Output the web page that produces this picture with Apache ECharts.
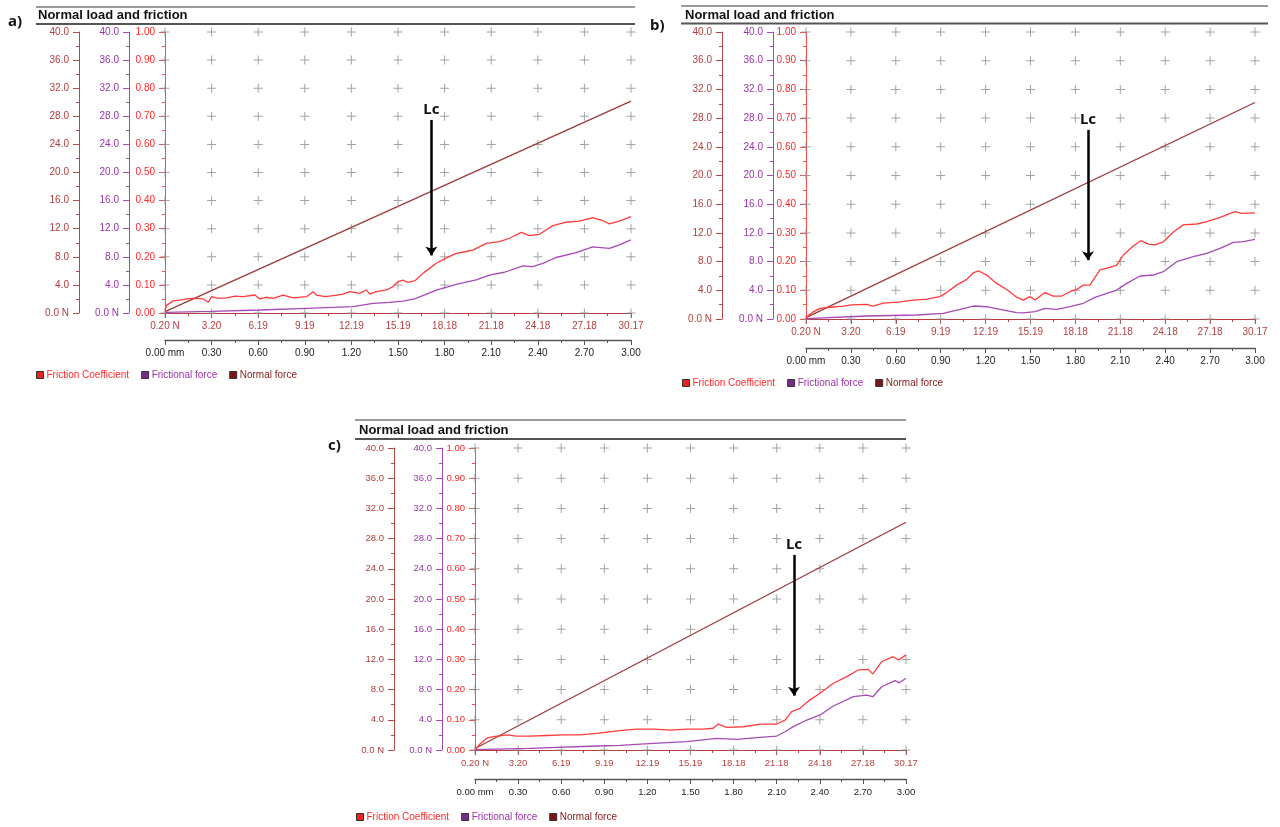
<!DOCTYPE html>
<html>
<head>
<meta charset="utf-8">
<script src="https://cdn.jsdelivr.net/npm/echarts@6/dist/echarts.min.js"></script>
<style>
  html, body { margin: 0; background: #fff; }
  #main { width: 1280px; height: 827px; }
</style>
</head>
<body>
<div id="main"></div>
<script>
// tick labels
const loadLabels = ['0.20 N', '3.20', '6.19', '9.19', '12.19', '15.19', '18.18', '21.18', '24.18', '27.18', '30.17'];
const distLabels = ['0.00 mm', '0.30', '0.60', '0.90', '1.20', '1.50', '1.80', '2.10', '2.40', '2.70', '3.00'];
const distTicks = [0, 0.3, 0.6, 0.9, 1.2, 1.5, 1.8, 2.1, 2.4, 2.7, 3.0];
const coefTicks = [0, 0.1, 0.2, 0.3, 0.4, 0.5, 0.6, 0.7, 0.8, 0.9, 1.0];

// normal force follows the applied load  [load N, force N]
const normalForce = [[0.2, 0.2], [30.17, 30.17]];

// a) [load N, value]
const coefA = [[0.2, 0.011], [0.31, 0.028], [0.73, 0.043], [1.16, 0.046], [1.59, 0.05], [2.02, 0.052], [2.66, 0.05], [2.98, 0.038],
  [3.2, 0.058], [3.6, 0.052], [4.16, 0.054], [4.7, 0.06], [5.23, 0.058], [5.98, 0.064], [6.3, 0.05], [6.7, 0.056], [7.16, 0.052],
  [7.8, 0.064], [8.44, 0.054], [9.3, 0.058], [9.72, 0.076], [9.94, 0.064], [10.5, 0.058], [11.01, 0.062], [11.6, 0.066],
  [12.08, 0.076], [12.72, 0.07], [13.15, 0.082], [13.37, 0.067], [13.8, 0.076], [14.44, 0.082], [14.86, 0.094], [15.18, 0.111],
  [15.5, 0.117], [15.83, 0.109], [16.26, 0.114], [16.79, 0.141], [17.65, 0.177], [18.3, 0.196], [18.93, 0.212], [19.5, 0.218],
  [20.0, 0.224], [20.86, 0.248], [21.71, 0.254], [22.36, 0.266], [23.11, 0.287], [23.64, 0.275], [24.28, 0.28], [25.14, 0.311],
  [26.0, 0.323], [26.85, 0.327], [27.71, 0.339], [28.3, 0.33], [28.78, 0.317], [29.42, 0.327], [30.17, 0.343]];
const forceA = [[0.2, 0.1], [3.2, 0.22], [6.3, 0.43], [9.3, 0.67], [12.29, 0.9], [13.58, 1.37], [14.65, 1.5], [15.5, 1.7],
  [16.26, 2.0], [17.65, 3.27], [18.93, 4.08], [20.22, 4.7], [21.07, 5.4], [22.03, 5.8], [23.21, 6.7], [23.85, 6.6], [24.5, 7.07],
  [25.35, 7.9], [26.64, 8.6], [27.71, 9.4], [28.78, 9.2], [29.42, 9.7], [30.17, 10.4]];

// b)
const coefB = [[0.2, 0.0], [0.25, 0.008], [0.69, 0.025], [1.13, 0.037], [1.8, 0.041], [2.69, 0.045], [3.25, 0.049], [4.25, 0.051],
  [4.69, 0.045], [5.36, 0.055], [6.47, 0.06], [7.36, 0.066], [8.26, 0.069], [9.14, 0.078], [9.59, 0.092], [10.26, 0.118],
  [10.93, 0.138], [11.37, 0.161], [11.7, 0.168], [12.26, 0.153], [12.93, 0.124], [13.6, 0.103], [14.26, 0.076], [14.7, 0.066],
  [15.15, 0.078], [15.49, 0.066], [16.15, 0.092], [16.71, 0.08], [17.27, 0.08], [17.82, 0.095], [18.27, 0.103], [18.71, 0.118],
  [19.16, 0.118], [19.38, 0.136], [19.82, 0.171], [20.49, 0.18], [20.94, 0.188], [21.38, 0.223], [22.05, 0.254], [22.54, 0.273],
  [23.05, 0.261], [23.5, 0.258], [24.05, 0.269], [24.72, 0.303], [25.39, 0.328], [26.28, 0.331], [26.95, 0.339], [27.84, 0.354],
  [28.84, 0.374], [29.28, 0.368], [30.17, 0.37]];
const forceB = [[0.2, 0.05], [4.25, 0.42], [7.59, 0.56], [9.36, 0.79], [10.48, 1.35], [11.37, 1.81], [12.26, 1.71], [13.15, 1.35],
  [14.26, 0.88], [14.7, 0.85], [15.49, 1.02], [16.15, 1.49], [16.93, 1.35], [17.82, 1.71], [18.71, 2.19], [19.49, 3.02],
  [20.27, 3.58], [20.94, 4.04], [21.61, 4.97], [22.49, 5.99], [23.38, 6.13], [24.05, 6.59], [24.94, 7.99], [26.05, 8.68],
  [26.95, 9.16], [27.84, 9.85], [28.72, 10.69], [29.39, 10.77], [30.17, 11.1]];

// c)
const coefC = [[0.2, 0.0], [0.55, 0.02], [1.01, 0.039], [1.47, 0.044], [2.4, 0.05], [3.1, 0.046], [4.02, 0.046], [5.2, 0.048],
  [6.34, 0.05], [7.5, 0.05], [8.66, 0.055], [10.28, 0.064], [11.44, 0.069], [12.6, 0.069], [13.76, 0.066], [14.92, 0.069],
  [16.08, 0.069], [16.75, 0.072], [17.12, 0.086], [17.7, 0.075], [18.86, 0.077], [20.02, 0.086], [21.18, 0.086], [21.76, 0.099],
  [22.22, 0.127], [22.8, 0.138], [23.5, 0.166], [24.19, 0.188], [25.12, 0.221], [26.05, 0.243], [26.85, 0.265], [27.55, 0.267],
  [27.86, 0.252], [28.48, 0.293], [29.29, 0.309], [29.64, 0.298], [30.17, 0.315]];
const forceC = [[0.2, 0.05], [4.02, 0.22], [8.66, 0.53], [10.28, 0.6], [12.6, 0.89], [14.92, 1.1], [17.01, 1.55], [18.4, 1.42],
  [20.02, 1.68], [21.18, 1.85], [21.76, 2.42], [22.33, 3.09], [23.27, 3.97], [24.19, 4.64], [25.12, 5.83], [26.51, 7.06],
  [27.44, 7.28], [27.86, 7.06], [28.48, 8.38], [29.41, 9.18], [29.71, 8.9], [30.17, 9.5]];

// Lc arrows: load, coefficient at arrow top and tip
const lcLoad = [17.33, 19.02, 22.38];
const lcTop = [0.687, 0.659, 0.646];
const lcTip = [0.205, 0.205, 0.18];

const panelNames = ['a)', 'b)', 'c)'];
const coefData = [coefA, coefB, coefC];
const forceData = [forceA, forceB, forceC];

// layout (px)
const layout = [
  { left: 165, top: 32, width: 466, height: 281, offN: 86, offF: 36, mmOff: 27, lblX: 8, lblY: 14, titleX: 38, titleY: 9, lineX1: 36, lineX2: 635, lineY1: 7, lineY2: 24, legX: 36, legY: 370, fs: 10 },
  { left: 806, top: 32, width: 449, height: 287, offN: 84, offF: 33, mmOff: 29, lblX: 650, lblY: 18, titleX: 685, titleY: 9, lineX1: 681, lineX2: 1268, lineY1: 6, lineY2: 23.5, legX: 682, legY: 378, fs: 10 },
  { left: 475, top: 448, width: 431, height: 302, offN: 81, offF: 33, mmOff: 29, lblX: 328, lblY: 438, titleX: 359, titleY: 424, lineX1: 355, lineX2: 906, lineY1: 420, lineY2: 439, legX: 356, legY: 812, fs: 9.5 }
];

const FONT = '"Liberation Sans", Arial, sans-serif';
const C_COEF = '#ff3b3b', C_FORCE = '#a64ab8', C_NORMAL = '#9c3a3a';
const T_COEF = '#ff2626', T_FORCE = '#9a33aa', T_NORMAL = '#b03c3c', T_LOAD = '#b5403f';

const toMm = L => (L - 0.2) / 9.99;
const conv = arr => arr.map(d => [toMm(d[0]), d[1]]);
const crossPts = [];
distTicks.forEach(x => coefTicks.forEach(y => crossPts.push([x, y])));
const PLUS = 'path://M4,0H5V4H9V5H5V9H4V5H0V4H4Z';

const grid = [], xAxis = [], yAxis = [], series = [], legend = [], title = [], graphic = [];

layout.forEach((p, i) => {
  grid.push({ left: p.left, top: p.top, width: p.width, height: p.height, containLabel: false, outerBoundsMode: 'none' });

  xAxis.push({
    type: 'value', gridIndex: i, min: 0, max: 3, interval: 0.3, position: 'bottom',
    axisLine: { show: true, onZero: false, lineStyle: { color: T_LOAD, width: 1 } },
    axisTick: { show: true, length: 5, lineStyle: { color: T_LOAD } },
    minorTick: { show: true, splitNumber: 2, length: 3, lineStyle: { color: T_LOAD } },
    splitLine: { show: false },
    axisLabel: { color: T_LOAD, fontSize: p.fs, fontFamily: FONT, margin: 8, hideOverlap: false,
      formatter: v => loadLabels[Math.round(v / 0.3)] }
  });
  xAxis.push({
    type: 'value', gridIndex: i, min: 0, max: 3, interval: 0.3, position: 'bottom', offset: p.mmOff,
    axisLine: { show: true, onZero: false, lineStyle: { color: '#555', width: 1.3 } },
    axisTick: { show: true, length: 5, lineStyle: { color: '#555' } },
    minorTick: { show: true, splitNumber: 2, length: 3, lineStyle: { color: '#555' } },
    splitLine: { show: false },
    axisLabel: { color: '#222', fontSize: p.fs, fontFamily: FONT, margin: 8, hideOverlap: false,
      formatter: v => distLabels[Math.round(v / 0.3)] }
  });

  const yAx = (color, tcolor, offset, max, fmt) => ({
    type: 'value', gridIndex: i, min: 0, max: max, interval: max / 10, position: 'left', offset: offset,
    axisLine: { show: true, onZero: false, lineStyle: { color: color, width: 1 } },
    axisTick: { show: true, length: 6, lineStyle: { color: color } },
    minorTick: { show: true, splitNumber: 2, length: 3, lineStyle: { color: color } },
    splitLine: { show: false },
    axisLabel: { color: tcolor, fontSize: p.fs, fontFamily: FONT, margin: 10, formatter: fmt }
  });
  yAxis.push(yAx('#b04848', T_NORMAL, p.offN, 40, v => v === 0 ? '0.0 N' : v.toFixed(1)));
  yAxis.push(yAx('#a848b8', T_FORCE, p.offF, 40, v => v === 0 ? '0.0 N' : v.toFixed(1)));
  yAxis.push(yAx('#ff4a4a', T_COEF, 0, 1, v => v.toFixed(2)));

  series.push({
    type: 'scatter', xAxisIndex: 2 * i, yAxisIndex: 3 * i + 2, data: crossPts,
    symbol: PLUS, symbolSize: 9, itemStyle: { color: '#8c8c8c' }, silent: true, z: 1
  });
  series.push({
    name: 'Normal force', type: 'line', xAxisIndex: 2 * i, yAxisIndex: 3 * i, data: conv(normalForce),
    showSymbol: false, lineStyle: { color: C_NORMAL, width: 1.3 }, itemStyle: { color: C_NORMAL }, z: 3
  });
  series.push({
    name: 'Frictional force', type: 'line', xAxisIndex: 2 * i, yAxisIndex: 3 * i + 1, data: conv(forceData[i]),
    showSymbol: false, lineStyle: { color: C_FORCE, width: 1.3 }, itemStyle: { color: C_FORCE }, z: 3
  });
  series.push({
    name: 'Friction Coefficient', type: 'line', xAxisIndex: 2 * i, yAxisIndex: 3 * i + 2, data: conv(coefData[i]),
    showSymbol: false, lineStyle: { color: C_COEF, width: 1.3 }, itemStyle: { color: C_COEF }, z: 4,
    markLine: {
      silent: true, symbol: ['none', 'arrow'], symbolSize: 9, animation: false,
      lineStyle: { color: '#000', width: 2.5, type: 'solid' },
      label: { show: true, position: 'start', formatter: 'Lc', color: '#111', fontSize: 15, fontWeight: 'bold',
        fontFamily: '"Noto Sans", sans-serif', distance: 3 },
      data: [[{ coord: [toMm(lcLoad[i]), lcTop[i]] }, { coord: [toMm(lcLoad[i]), lcTip[i]] }]]
    }
  });

  legend.push({
    left: p.legX, top: p.legY, itemWidth: 7, itemHeight: 7, itemGap: 12, icon: 'rect', selectedMode: false, padding: 0,
    textStyle: { fontSize: 10, fontFamily: FONT, padding: [0, 0, 0, -2] },
    data: [
      { name: 'Friction Coefficient', textStyle: { color: '#ff2a2a' }, itemStyle: { color: '#ee2020', borderColor: '#333', borderWidth: 1 } },
      { name: 'Frictional force', textStyle: { color: '#9a33aa' }, itemStyle: { color: '#7a2a8c', borderColor: '#333', borderWidth: 1 } },
      { name: 'Normal force', textStyle: { color: '#8a2020' }, itemStyle: { color: '#7a1515', borderColor: '#333', borderWidth: 1 } }
    ]
  });

  title.push({ text: 'Normal load and friction', left: p.titleX, top: p.titleY, padding: 0,
    textStyle: { fontSize: 13, fontWeight: 'bold', color: '#111', fontFamily: FONT } });
  title.push({ text: panelNames[i], left: p.lblX, top: p.lblY, padding: 0,
    textStyle: { fontSize: 15, fontWeight: 'bold', color: '#111', fontFamily: '"Noto Sans", sans-serif' } });

  graphic.push({ type: 'line', silent: true, shape: { x1: p.lineX1, y1: p.lineY1, x2: p.lineX2, y2: p.lineY1 },
    style: { stroke: '#9a9a9a', lineWidth: 2 } });
  graphic.push({ type: 'line', silent: true, shape: { x1: p.lineX1, y1: p.lineY2, x2: p.lineX2, y2: p.lineY2 },
    style: { stroke: '#555', lineWidth: 2 } });
});

const myChart = echarts.init(document.getElementById('main'));
myChart.setOption({
  animation: false,
  backgroundColor: '#fff',
  title, legend, grid, xAxis, yAxis, series, graphic
});
</script>
</body>
</html>
